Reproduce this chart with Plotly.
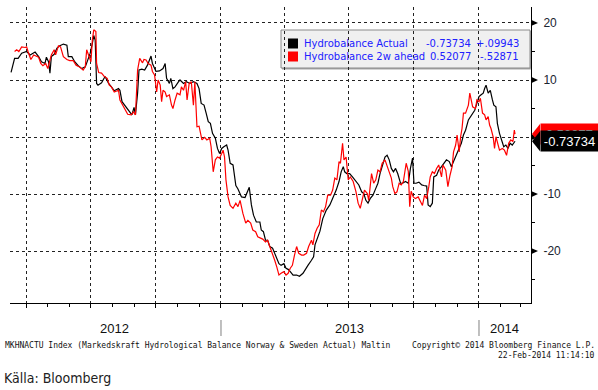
import plotly.graph_objects as go

# ---------------- data ----------------
actual_dates = [
 "2012-03-10","2012-03-15","2012-03-20","2012-03-25","2012-04-01","2012-04-06","2012-04-13","2012-04-18",
 "2012-04-22","2012-04-27","2012-04-29","2012-05-02","2012-05-04","2012-05-06","2012-05-10","2012-05-14",
 "2012-05-18","2012-05-23","2012-05-28","2012-05-30","2012-06-04","2012-06-08","2012-06-13","2012-06-18",
 "2012-06-23","2012-06-26","2012-06-30","2012-07-03","2012-07-05","2012-07-07","2012-07-09","2012-07-11",
 "2012-07-16","2012-07-21","2012-07-26","2012-07-30","2012-08-03","2012-08-09","2012-08-11","2012-08-14",
 "2012-08-16","2012-08-21","2012-08-24","2012-08-28","2012-08-31","2012-09-02","2012-09-05","2012-09-07",
 "2012-09-11","2012-09-15","2012-09-19","2012-09-24","2012-09-26","2012-10-01","2012-10-06","2012-10-11",
 "2012-10-14","2012-10-16","2012-10-20","2012-10-22","2012-10-25","2012-10-28","2012-11-02","2012-11-04",
 "2012-11-09","2012-11-13","2012-11-18","2012-11-23","2012-11-28","2012-12-01","2012-12-04","2012-12-08",
 "2012-12-11","2012-12-14","2012-12-17","2012-12-20","2012-12-24","2012-12-27","2012-12-30","2013-01-02",
 "2013-01-05","2013-01-09","2013-01-11","2013-01-14","2013-01-18","2013-01-22","2013-01-25","2013-01-30",
 "2013-02-04","2013-02-07","2013-02-10","2013-02-13","2013-02-16","2013-02-20","2013-02-25","2013-02-27",
 "2013-03-02","2013-03-05","2013-03-08","2013-03-11","2013-03-15","2013-03-18","2013-03-21","2013-03-24",
 "2013-03-27","2013-03-31","2013-04-03","2013-04-06","2013-04-09","2013-04-13","2013-04-18","2013-04-22",
 "2013-04-27","2013-05-01","2013-05-04","2013-05-09","2013-05-12","2013-05-14","2013-05-17","2013-05-21",
 "2013-05-25","2013-05-30","2013-06-04","2013-06-08","2013-06-13","2013-06-17","2013-06-20","2013-06-23",
 "2013-06-25","2013-06-28","2013-07-02","2013-07-06","2013-07-09","2013-07-12","2013-07-15","2013-07-19",
 "2013-07-22","2013-07-25","2013-07-28","2013-07-31","2013-08-04","2013-08-08","2013-08-11","2013-08-14",
 "2013-08-18","2013-08-21","2013-08-24","2013-08-27","2013-08-30","2013-09-02","2013-09-05","2013-09-08",
 "2013-09-12","2013-09-15","2013-09-19","2013-09-23","2013-09-26","2013-09-29","2013-10-01","2013-10-04",
 "2013-10-08","2013-10-12","2013-10-15","2013-10-19","2013-10-21","2013-10-24","2013-10-27","2013-10-29",
 "2013-11-02","2013-11-05","2013-11-09","2013-11-12","2013-11-16","2013-11-20","2013-11-23","2013-11-26",
 "2013-11-30","2013-12-04","2013-12-07","2013-12-10","2013-12-13","2013-12-17","2013-12-20","2013-12-23",
 "2013-12-26","2013-12-29","2014-01-01","2014-01-04","2014-01-07","2014-01-09","2014-01-11","2014-01-14",
 "2014-01-17","2014-01-20","2014-01-22","2014-01-25","2014-01-27","2014-01-30","2014-02-02","2014-02-05",
 "2014-02-08","2014-02-11","2014-02-14","2014-02-17","2014-02-21"]
actual_values = [
 11.35,13.8,13.8,14.7,15.0,14.4,14.9,14.1,
 13.2,12.9,14.0,13.2,11.2,14.1,14.5,15.6,
 16.0,16.3,16.1,14.1,14.1,13.2,12.5,12.0,
 12.3,13.5,14.7,16.4,17.8,17.0,9.4,9.1,
 9.5,10.6,9.4,8.8,8.1,8.5,8.2,6.2,
 5.9,5.0,4.7,3.9,5.2,3.9,7.7,11.75,
 11.9,11.75,12.6,14.2,12.9,11.5,11.6,12.0,
 12.9,10.3,9.4,10.3,8.5,8.8,9.7,10.0,
 9.4,9.7,9.4,9.7,9.4,8.5,5.9,5.6,
 4.2,2.7,2.4,0.65,-0.2,-2.0,-2.9,-2.0,
 -1.7,-1.4,-2.3,-4.6,-4.9,-8.5,-9.1,-10.5,
 -10.6,-9.6,-8.8,-11.9,-13.7,-14.9,-14.9,-16.3,
 -16.6,-18.1,-18.1,-19.2,-19.5,-20.4,-21.3,-22.2,
 -22.5,-22.2,-23.0,-23.2,-23.6,-24.2,-24.2,-24.4,
 -23.9,-23.0,-22.5,-21.6,-21.0,-18.9,-17.8,-16.5,
 -14.3,-12.8,-11.9,-10.8,-9.3,-7.8,-6.1,-5.2,
 -6.1,-6.4,-6.4,-7.0,-7.5,-7.8,-8.4,-9.6,
 -9.9,-11.1,-11.6,-10.8,-10.2,-9.0,-8.1,-6.4,
 -4.9,-3.5,-3.2,-4.0,-5.5,-6.1,-5.5,-6.4,
 -8.1,-8.1,-7.8,-8.1,-5.5,-3.7,-8.1,-8.1,
 -7.9,-8.4,-8.5,-8.6,-11.9,-12.2,-11.6,-7.0,
 -6.7,-5.8,-5.2,-4.6,-4.0,-4.3,-5.2,-4.3,
 -3.2,-2.0,-1.1,0.35,1.2,3.0,3.6,4.2,
 4.7,5.9,7.1,7.4,7.7,8.5,9.1,7.7,
 8.2,6.5,5.6,5.3,2.4,0.65,-0.5,-1.7,
 -1.4,-2.0,-1.1,-1.4,-0.73734]

ahead_dates = [
 "2012-03-15","2012-03-18","2012-03-21","2012-03-25","2012-03-30","2012-04-01","2012-04-03","2012-04-07",
 "2012-04-11","2012-04-18","2012-04-21","2012-04-24","2012-04-28","2012-05-01","2012-05-04","2012-05-06",
 "2012-05-10","2012-05-12","2012-05-16","2012-05-19","2012-05-23","2012-05-28","2012-06-01","2012-06-06",
 "2012-06-10","2012-06-15","2012-06-20","2012-06-23","2012-06-25","2012-06-28","2012-07-01","2012-07-03",
 "2012-07-05","2012-07-08","2012-07-09","2012-07-12","2012-07-16","2012-07-20","2012-07-24","2012-07-27",
 "2012-07-30","2012-08-03","2012-08-09","2012-08-11","2012-08-15","2012-08-19","2012-08-22","2012-08-27",
 "2012-08-30","2012-09-02","2012-09-05","2012-09-08","2012-09-12","2012-09-14","2012-09-17","2012-09-20",
 "2012-09-24","2012-09-26","2012-09-29","2012-10-02","2012-10-04","2012-10-07","2012-10-09","2012-10-11",
 "2012-10-14","2012-10-16","2012-10-20","2012-10-23","2012-10-25","2012-10-28","2012-10-31","2012-11-04",
 "2012-11-06","2012-11-09","2012-11-12","2012-11-14","2012-11-17","2012-11-20","2012-11-23","2012-11-25",
 "2012-11-28","2012-12-01","2012-12-05","2012-12-09","2012-12-12","2012-12-16","2012-12-18","2012-12-21",
 "2012-12-24","2012-12-27","2012-12-30","2013-01-02","2013-01-04","2013-01-06","2013-01-08","2013-01-11",
 "2013-01-14","2013-01-18","2013-01-22","2013-01-25","2013-01-28","2013-02-01","2013-02-05","2013-02-08",
 "2013-02-12","2013-02-15","2013-02-19","2013-02-22","2013-02-26","2013-03-01","2013-03-05","2013-03-08",
 "2013-03-11","2013-03-15","2013-03-18","2013-03-21","2013-03-24","2013-03-27","2013-03-31","2013-04-03",
 "2013-04-06","2013-04-09","2013-04-12","2013-04-15","2013-04-18","2013-04-21","2013-04-25","2013-04-28",
 "2013-05-02","2013-05-05","2013-05-09","2013-05-11","2013-05-14","2013-05-17","2013-05-20","2013-05-23",
 "2013-05-26","2013-05-29","2013-06-01","2013-06-05","2013-06-08","2013-06-11","2013-06-14","2013-06-17",
 "2013-06-19","2013-06-22","2013-06-24","2013-06-27","2013-06-30","2013-07-03","2013-07-07","2013-07-11",
 "2013-07-14","2013-07-17","2013-07-20","2013-07-23","2013-07-27","2013-07-29","2013-08-02","2013-08-05",
 "2013-08-08","2013-08-11","2013-08-14","2013-08-17","2013-08-21","2013-08-24","2013-08-27","2013-08-30",
 "2013-09-01","2013-09-04","2013-09-07","2013-09-10","2013-09-13","2013-09-16","2013-09-20","2013-09-23",
 "2013-09-25","2013-09-27","2013-09-30","2013-10-03","2013-10-07","2013-10-10","2013-10-13","2013-10-16",
 "2013-10-19","2013-10-22","2013-10-24","2013-10-27","2013-10-30","2013-11-02","2013-11-05","2013-11-09",
 "2013-11-11","2013-11-15","2013-11-18","2013-11-21","2013-11-24","2013-11-26","2013-11-29","2013-12-01",
 "2013-12-04","2013-12-06","2013-12-08","2013-12-10","2013-12-13","2013-12-17","2013-12-19","2013-12-21",
 "2013-12-23","2013-12-27","2013-12-29","2014-01-01","2014-01-03","2014-01-06","2014-01-09","2014-01-11",
 "2014-01-14","2014-01-16","2014-01-18","2014-01-21","2014-01-23","2014-01-25","2014-01-28","2014-01-30",
 "2014-02-03","2014-02-06","2014-02-09","2014-02-12","2014-02-15","2014-02-18","2014-02-20","2014-02-21"]
ahead_values = [
 15.0,15.3,15.0,15.8,15.7,15.8,15.0,13.6,
 14.4,14.0,12.9,12.5,12.9,12.0,13.5,14.4,
 15.3,14.4,16.0,15.8,14.1,13.6,13.4,13.4,
 12.6,12.3,11.75,12.3,15.3,14.1,13.2,17.0,
 18.8,18.5,12.9,11.3,11.2,10.6,10.3,9.1,
 8.8,7.9,8.2,6.5,5.6,4.7,4.0,3.9,
 4.4,3.9,11.75,13.8,13.0,13.6,13.5,12.9,
 12.6,11.5,10.9,7.9,10.0,9.1,6.2,8.2,
 7.9,7.1,7.4,5.6,5.0,6.5,7.7,7.4,
 8.8,8.2,9.7,6.5,9.4,9.7,5.6,9.7,
 1.8,1.9,-0.5,-0.05,-0.5,-0.2,-1.7,-6.1,
 -4.0,-3.5,-3.7,-2.9,-2.3,-3.5,-7.5,-10.5,
 -12.0,-12.5,-11.6,-12.2,-11.1,-13.4,-15.1,-14.6,
 -15.1,-16.3,-16.6,-17.5,-17.8,-17.9,-18.4,-18.1,
 -19.2,-20.4,-21.6,-22.8,-24.2,-23.9,-23.6,-24.2,
 -23.9,-23.0,-22.5,-20.7,-19.2,-20.4,-20.7,-20.7,
 -20.4,-19.2,-18.1,-18.9,-16.9,-16.0,-15.4,-12.8,
 -13.1,-12.2,-10.2,-10.2,-9.3,-7.2,-7.5,-4.3,
 -4.6,-1.1,-4.0,-3.5,-7.5,-7.0,-7.8,-9.6,
 -11.6,-12.5,-10.8,-9.3,-9.9,-11.1,-6.4,-8.1,
 -7.5,-5.8,-6.1,-4.6,-4.0,-5.2,-6.4,-7.2,
 -8.7,-9.9,-9.6,-8.1,-8.4,-7.8,-4.6,-6.0,
 -12.2,-9.5,-10.5,-10.8,-10.5,-11.4,-12.0,-10.2,
 -10.8,-8.7,-7.0,-6.1,-6.4,-5.5,-4.9,-7.0,
 -4.9,-5.8,-8.7,-6.7,-5.2,-2.6,-1.4,0.35,
 -2.6,0.05,1.5,4.2,4.2,5.6,7.7,6.5,
 5.3,5.0,6.5,6.2,6.8,4.2,3.9,3.0,
 3.6,2.1,1.5,0.05,-2.0,0.05,-1.7,-2.3,
 -2.0,-2.3,-3.2,-1.1,-0.5,-0.8,1.2,0.52077]

series_names = ["Hydrobalance Actual", "Hydrobalance 2w ahead"]
last_values = ["-0.73734", "0.52077"]
changes = ["+.09943", "-.52871"]
y_ticks = [20, 10, 0, -10, -20]
y_ticktext = ["20", "10", "", "-10", "-20"]
quarter_ticks = ["2012-04-01", "2012-07-01", "2012-10-01", "2013-01-01",
                 "2013-04-01", "2013-07-01", "2013-10-01", "2014-01-01"]
year_labels = ["2012", "2013", "2014"]
year_label_pos = ["2012-08-03", "2013-07-02", "2014-02-06"]
year_separators = ["2013-01-01", "2014-01-01"]

# ---------------- figure ----------------
fig = go.Figure()
fig.add_trace(go.Scatter(x=actual_dates, y=actual_values, mode="lines",
                         line=dict(color="#000000", width=1.2), name=series_names[0]))
fig.add_trace(go.Scatter(x=ahead_dates, y=ahead_values, mode="lines",
                         line=dict(color="#ff0000", width=1.2), name=series_names[1]))

W, H = 598, 390
L, R, T, B = 10, 67, 7, 87
pw, ph = W - L - R, H - T - B
Y0, Y1 = -29.1, 22.8

def px_x(x):  # pixel -> paper x
    return (x - L) / pw

def px_y(y):  # pixel -> paper y
    return (H - B - y) / ph

grid = dict(showgrid=True, gridcolor="#222222", griddash="dot", gridwidth=1)

fig.update_layout(
    width=W, height=H, autosize=False,
    margin=dict(l=L, r=R, t=T, b=B),
    paper_bgcolor="white", plot_bgcolor="white",
    showlegend=False,
    xaxis=dict(type="date", range=["2012-03-08 12:00", "2014-03-15 14:00"],
               tickvals=quarter_ticks, showticklabels=False,
               ticks="outside", ticklen=4, tickcolor="black",
               minor=dict(dtick="M1", tick0="2012-01-01", ticks="outside", ticklen=3,
                          tickcolor="black", showgrid=False),
               showline=True, linecolor="black", linewidth=1, zeroline=False, **grid),
    yaxis=dict(range=[Y0, Y1], side="right", tickvals=y_ticks, ticktext=y_ticktext,
               ticks="", showline=True, linecolor="black", linewidth=1, zeroline=False,
               minor=dict(dtick=5, tick0=0, ticks="outside", ticklen=3, tickcolor="black",
                          showgrid=False),
               tickfont=dict(family="Liberation Sans, Arial", size=12, color="#1a2530"),
               ticklabelstandoff=9, **grid),
)

shapes = []
# triangles at right-axis major ticks
for v in y_ticks:
    shapes.append(dict(type="path", xref="paper", yref="y", layer="above",
                       path=f"M 1.0,{v+0.55} L {1.0 + 7/pw},{v} L 1.0,{v-0.55} Z",
                       fillcolor="black", line=dict(width=0)))

# legend box
shapes.append(dict(type="rect", xref="paper", yref="paper", layer="below",
                   x0=px_x(282), x1=px_x(531.5), y0=px_y(69.5), y1=px_y(31),
                   fillcolor="#a8a8a8", line=dict(width=0)))
shapes.append(dict(type="rect", xref="paper", yref="paper", layer="below",
                   x0=px_x(281), x1=px_x(530), y0=px_y(68), y1=px_y(30),
                   fillcolor="#f0f0f0", line=dict(color="#8a8a8a", width=1)))
for i, col in enumerate(["#000000", "#ff0000"]):
    yc = 43.5 + 13 * i
    shapes.append(dict(type="rect", xref="paper", yref="paper", layer="above",
                       x0=px_x(288), x1=px_x(298), y0=px_y(yc + 5), y1=px_y(yc - 5),
                       fillcolor=col, line=dict(width=0)))

# year separators
for d in year_separators:
    shapes.append(dict(type="line", xref="x", yref="paper", x0=d, x1=d,
                       y0=px_y(320), y1=px_y(336), line=dict(color="#808080", width=1)))

# badge tips
tip_w = 8 / pw
half = 10 / (ph / (Y1 - Y0))
for val, col in [(float(last_values[1]), "#ff0000"), (float(last_values[0]), "#000000")]:
    shapes.append(dict(type="path", xref="paper", yref="y", layer="above",
                       path=f"M {1.0 + 1/pw},{val} L {1.0 + 1/pw + tip_w},{val + half} "
                            f"L {1.0 + 1/pw + tip_w},{val - half} Z",
                       fillcolor=col, line=dict(width=0)))
fig.update_layout(shapes=shapes)

ann = []
leg_font = dict(family="DejaVu Sans, Verdana, sans-serif", size=10, color="#2020ff")
for i in range(2):
    yc = px_y(43.5 + 13 * i)
    ann.append(dict(xref="paper", yref="paper", x=px_x(302), y=yc, text=series_names[i],
                    showarrow=False, xanchor="left", yanchor="middle", font=leg_font))
    ann.append(dict(xref="paper", yref="paper", x=px_x(473), y=yc, text=last_values[i],
                    showarrow=False, xanchor="right", yanchor="middle", font=leg_font))
    ann.append(dict(xref="paper", yref="paper", x=px_x(521), y=yc, text=changes[i],
                    showarrow=False, xanchor="right", yanchor="middle", font=leg_font))

# value badges (red first, black on top)
for val_txt, col in [(last_values[1], "#ff0000"), (last_values[0], "#000000")]:
    ann.append(dict(xref="paper", yref="y", x=px_x(540), y=float(val_txt), text=val_txt,
                    showarrow=False, xanchor="left", yanchor="middle", bgcolor=col,
                    width=57, height=20, borderpad=0, align="center",
                    font=dict(family="Liberation Sans, Arial", size=13, color="white")))

# year labels
for t, d in zip(year_labels, year_label_pos):
    ann.append(dict(xref="x", yref="paper", x=d, y=px_y(328), text=t, showarrow=False,
                    xanchor="center", yanchor="middle",
                    font=dict(family="Liberation Sans, Arial", size=13, color="#111111")))

foot_font = dict(family="DejaVu Sans Mono, monospace", size=8, color="#111111")
ann.append(dict(xref="paper", yref="paper", x=px_x(3), y=px_y(345), showarrow=False,
                xanchor="left", yanchor="middle", font=foot_font,
                text="MKHNACTU Index (Markedskraft Hydrological Balance Norway & Sweden Actual) Maltin"))
ann.append(dict(xref="paper", yref="paper", x=px_x(597), y=px_y(345), showarrow=False,
                xanchor="right", yanchor="middle", font=foot_font,
                text="Copyright© 2014 Bloomberg Finance L.P."))
ann.append(dict(xref="paper", yref="paper", x=px_x(597), y=px_y(356), showarrow=False,
                xanchor="right", yanchor="middle", font=foot_font,
                text="22-Feb-2014 11:14:10"))
ann.append(dict(xref="paper", yref="paper", x=px_x(2), y=px_y(378), showarrow=False,
                xanchor="left", yanchor="middle",
                font=dict(family="Liberation Sans Narrow, DejaVu Sans Condensed, Arial Narrow, sans-serif",
                          size=14, color="#222222"),
                text="Källa: Bloomberg"))
fig.update_layout(annotations=ann)

fig.write_html("out.html", config={"displayModeBar": False},
               post_script="document.body.style.margin='0';")
